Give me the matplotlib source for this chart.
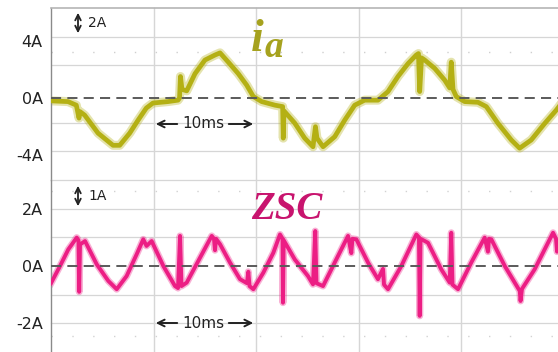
import matplotlib
matplotlib.use("Agg")
import matplotlib.pyplot as plt

# Phase current i_a (A) versus time (ms)
ia_t = [0.0, 1.66, 2.47, 2.73, 2.83, 3.29, 4.59, 6.05, 6.70, 7.68, 8.49, 9.30, 9.95,
        11.41, 12.39, 12.54, 12.63, 12.78, 13.24, 14.05, 15.02, 16.00, 16.49, 17.30,
        18.27, 19.09, 19.74, 20.56, 21.85, 22.60, 22.66, 22.73, 23.78, 24.75, 25.56,
        25.80, 25.95, 26.54, 27.68, 28.65, 29.63, 30.60, 31.90, 32.88, 33.85, 34.83,
        35.64, 35.85, 35.97, 36.15, 36.46, 37.43, 38.41, 38.90, 39.05, 39.22, 39.54,
        40.36, 41.66, 42.47, 43.61, 44.91, 45.72, 46.85, 48.17, 49.30, 49.66]
ia_val = [-0.2, -0.25, -0.5, -1.4, -0.95, -1.2, -2.45, -3.3, -3.3, -2.45, -1.55, -0.7, -0.35,
          -0.25, -0.15, 0.0, 1.5, 0.6, 0.5, 1.7, 2.65, 3.0, 3.15, 2.5,
          1.7, 0.9, 0.1, -0.25, -0.5, -0.6, -2.8, -0.9, -1.75, -2.8, -3.4,
          -2.0, -2.8, -3.4, -2.7, -1.55, -0.5, -0.15, -0.15, 0.45, 1.5, 2.4,
          3.0, 3.1, 0.45, 2.8, 2.65, 2.07, 1.25, 0.7, 2.5, 0.6, 0.1,
          -0.25, -0.3, -0.6, -1.77, -2.93, -3.5, -2.93, -1.77, -0.84, -0.5]

# Zero-sequence current ZSC (A) versus time (ms)
zsc_t = [0.0, 0.88, 1.69, 2.51, 2.68, 2.75, 2.83, 3.32, 4.46, 5.59, 6.41, 7.38, 8.36,
         9.00, 9.32, 9.82, 10.96, 12.10, 12.39, 12.59, 12.73, 13.24, 14.54, 15.68,
         15.90, 16.00, 16.10, 16.49, 17.46, 18.44, 19.12, 19.25, 19.37, 19.74, 20.72,
         21.69, 22.34, 22.59, 22.63, 22.70, 23.78, 25.07, 25.56, 25.78, 25.90, 26.54,
         27.68, 28.98, 29.30, 29.41, 29.79, 30.93, 31.90, 32.39, 32.49, 32.88, 34.18,
         35.64, 35.90, 35.97, 36.05, 36.78, 38.08, 38.90, 39.05, 39.17, 39.71, 41.00,
         42.31, 42.63, 42.73, 42.96, 44.27, 45.73, 45.81, 45.95, 47.18, 48.98, 49.27,
         49.37, 49.66]
zsc_val = [-0.6, 0.0, 0.58, 0.99, 0.9, -0.9, 0.75, 0.87, 0.06, -0.52, -0.81, -0.35, 0.41,
           0.93, 0.7, 0.87, 0.0, -0.7, -0.77, 1.05, -0.7, -0.58, 0.29, 1.05,
           0.95, 0.55, 0.95, 0.76, 0.12, -0.46, -0.6, -0.2, -0.7, -0.81, -0.23,
           0.46, 1.1, 0.95, -1.28, 0.9, 0.23, -0.35, -0.64, 1.22, -0.6, -0.7,
           0.12, 1.05, 0.45, 0.95, 0.93, 0.12, -0.46, -0.1, -0.65, -0.81, 0.0,
           1.1, 1.0, -1.74, 0.95, 0.81, -0.12, -0.58, 1.16, -0.65, -0.81, 0.12,
           0.99, 0.5, 0.95, 0.93, 0.0, -0.87, -1.22, -0.8, -0.12, 1.16, 0.95,
           0.5, 1.0]

ia_ticks = [4, 0, -4]
ia_ticklabels = ["4A", "0A", "-4A"]
zsc_ticks = [2, 0, -2]
zsc_ticklabels = ["2A", "0A", "-2A"]

W, H = 558, 352
IA_COLOR = "#b4b014"
IA_LABEL = "#a6a21e"
ZSC_COLOR = "#ec1e84"
ZSC_LABEL = "#c8146e"
GRID = "#d6d6d6"

fig = plt.figure(figsize=(W / 100, H / 100), dpi=100)
fig.patch.set_facecolor("white")


def fx(px):
    return px / W


def fy(py):
    return 1 - py / H


x_max = 507 / 10.25  # ms shown across the plot width
ax_top = fig.add_axes([fx(51), fy(180), fx(507), 172 / H])
ax_bot = fig.add_axes([fx(51), 0, fx(507), 172 / H])

ax_top.set_ylim(-5.72, 6.28)
ax_bot.set_ylim(-3.0, 3.0)

for ax in (ax_top, ax_bot):
    ax.set_xlim(0, x_max)
    ax.set_facecolor("none")
    for s in ("top", "right", "bottom"):
        ax.spines[s].set_visible(False)
    ax.spines["left"].set_color("#8a8a8a")
    ax.spines["left"].set_linewidth(1.0)
    ax.set_xticks([])
    ax.tick_params(axis="y", length=0, pad=6, labelsize=11.5, labelcolor="#222222")
    for t in (10, 20, 30, 40):
        ax.axvline(t, color=GRID, lw=1.0, zorder=0, clip_on=False)

# horizontal grid, 2 A per division on i_a, 1 A per division on ZSC
ax_top.spines["top"].set_visible(True)
ax_top.spines["top"].set_color("#b5b5b5")
ax_top.spines["top"].set_linewidth(1.2)
for k in (1, 2, 4, 5):
    ax_top.axhline(6.28 - 2 * k, color=GRID, lw=0.9, zorder=0)
for g in (3, 2, 1, -1, -2):
    ax_bot.axhline(g, color=GRID, lw=0.9, zorder=0, clip_on=False)

# faint cursor dots
ax_top.axhline(3.21, color="#cfcfcf", lw=1.0, ls=(0, (1, 14)), zorder=0)
ax_bot.axhline(2.62, color="#d2d2d2", lw=1.0, ls=(0, (1, 14)), zorder=0)
ax_bot.axhline(-2.44, color="#d2d2d2", lw=1.0, ls=(0, (1, 14)), zorder=0)

ax_top.set_yticks(ia_ticks)
ax_top.set_yticklabels(ia_ticklabels)
ax_bot.set_yticks(zsc_ticks)
ax_bot.set_yticklabels(zsc_ticklabels)

# traces: soft halo plus solid core
ax_top.plot(ia_t, ia_val, color=IA_COLOR, lw=6.5, alpha=0.35, solid_joinstyle="round", zorder=2)
ax_top.plot(ia_t, ia_val, color=IA_COLOR, lw=3.4, solid_joinstyle="round", zorder=3)
ax_bot.plot(zsc_t, zsc_val, color=ZSC_COLOR, lw=5.0, alpha=0.35, solid_joinstyle="round", zorder=2)
ax_bot.plot(zsc_t, zsc_val, color=ZSC_COLOR, lw=2.8, solid_joinstyle="round", zorder=3)

# dashed ground reference
for ax in (ax_top, ax_bot):
    ax.axhline(0, color="#5a5a5a", lw=1.4, dashes=(5.2, 3.2), zorder=4)

# scale markers
arrow_kw = dict(arrowstyle="<->", color="#222222", lw=1.3, mutation_scale=10)
fig.add_artist(matplotlib.patches.FancyArrowPatch((fx(78), fy(36)), (fx(78), fy(10)),
                                                  transform=fig.transFigure, **arrow_kw))
fig.text(fx(88), fy(23), "2A", fontsize=10, color="#222222", va="center", ha="left")
fig.add_artist(matplotlib.patches.FancyArrowPatch((fx(78), fy(209)), (fx(78), fy(183)),
                                                  transform=fig.transFigure, **arrow_kw))
fig.text(fx(88), fy(196), "1A", fontsize=10, color="#222222", va="center", ha="left")

one_kw = dict(arrowstyle="->", color="#222222", lw=1.4, mutation_scale=12)
for yy in (124, 323):
    fig.text(fx(203), fy(yy), "10ms", fontsize=11, color="#222222", va="center", ha="center")
    fig.add_artist(matplotlib.patches.FancyArrowPatch((fx(180), fy(yy)), (fx(153), fy(yy)),
                                                      transform=fig.transFigure, **one_kw))
    fig.add_artist(matplotlib.patches.FancyArrowPatch((fx(226), fy(yy)), (fx(256), fy(yy)),
                                                      transform=fig.transFigure, **one_kw))

# channel names
serif = dict(family="Liberation Serif", style="italic", weight="bold")
fig.text(fx(251), fy(51), "i", fontsize=33, color=IA_LABEL, va="baseline", ha="left", **serif)
fig.text(fx(265), fy(57), "a", fontsize=27, color=IA_LABEL, va="baseline", ha="left", **serif)
fig.text(fx(251), fy(219), "ZSC", fontsize=28, color=ZSC_LABEL, va="baseline", ha="left", **serif)

fig.savefig("out.png", dpi=100)
